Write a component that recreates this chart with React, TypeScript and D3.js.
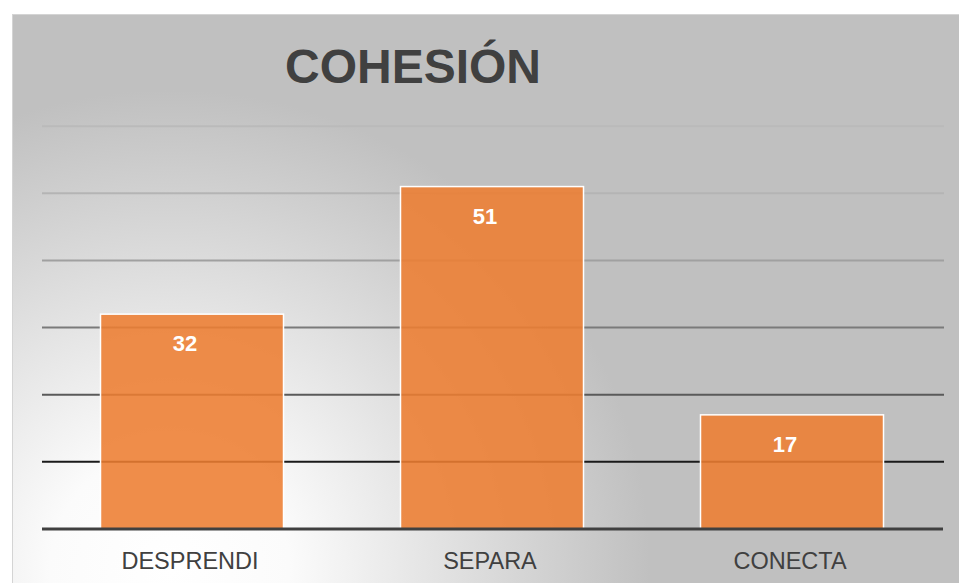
import React, { useEffect, useRef } from 'react';
import * as d3 from 'd3';

const categories = ['DESPRENDI', 'SEPARA', 'CONECTA'];
const values = [32, 51, 17];
const gridTicks = [10, 20, 30, 40, 50, 60];
const gridColors = ['#1a1a1a', '#5a5a5a', '#7a7a7a', '#a0a0a0', '#b4b4b4', '#bababa'];
const title = 'COHESIÓN';

const App: React.FC = () => {
  const ref = useRef<SVGSVGElement | null>(null);

  useEffect(() => {
    if (ref.current) draw();
  }, []);

  const draw = () => {
    const svg = d3.select(ref.current);
    svg.selectAll('*').remove();

    const width = 959;
    const height = 583;
    const fontFamily = 'Liberation Sans, Arial, sans-serif';

    const defs = svg.append('defs');
    const grad = defs.append('radialGradient')
      .attr('id', 'bg')
      .attr('gradientUnits', 'userSpaceOnUse')
      .attr('cx', 170).attr('cy', 570).attr('r', 480);
    grad.append('stop').attr('offset', '0%').attr('stop-color', '#ffffff');
    grad.append('stop').attr('offset', '25%').attr('stop-color', '#fbfbfb');
    grad.append('stop').attr('offset', '100%').attr('stop-color', '#c0c0c0');

    svg.append('rect')
      .attr('x', 12.5).attr('y', 14.5)
      .attr('width', width).attr('height', height)
      .attr('fill', 'url(#bg)')
      .attr('stroke', '#d4d4d4');

    const x = d3.scaleBand<string>()
      .domain(categories)
      .range([42, 942])
      .paddingInner(0.39)
      .paddingOuter(0.195);

    const y = d3.scaleLinear().domain([0, 70]).range([529, 59]);

    // gridlines
    svg.append('g')
      .selectAll('line')
      .data(gridTicks)
      .enter().append('line')
      .attr('x1', 42).attr('x2', 944)
      .attr('y1', d => y(d)).attr('y2', d => y(d))
      .attr('stroke', (d, i) => gridColors[i])
      .attr('stroke-width', 2);

    // bars
    svg.append('g')
      .selectAll('rect')
      .data(values)
      .enter().append('rect')
      .attr('x', (d, i) => x(categories[i]) || 0)
      .attr('y', d => y(d))
      .attr('width', x.bandwidth())
      .attr('height', d => y(0) - y(d))
      .attr('fill', 'rgba(237,125,49,0.88)')
      .attr('stroke', '#ffffff')
      .attr('stroke-width', 1.5);

    // baseline
    svg.append('line')
      .attr('x1', 42).attr('x2', 943)
      .attr('y1', y(0)).attr('y2', y(0))
      .attr('stroke', '#404040')
      .attr('stroke-width', 3);

    // value labels (sit a little left of the bar centre, as in the source)
    svg.append('g')
      .selectAll('text')
      .data(values)
      .enter().append('text')
      .attr('x', (d, i) => (x(categories[i]) || 0) + x.bandwidth() / 2 - 7)
      .attr('y', d => y(d) + 37)
      .attr('text-anchor', 'middle')
      .attr('font-family', fontFamily)
      .attr('font-weight', 'bold')
      .attr('font-size', 22)
      .attr('fill', '#ffffff')
      .text(d => d);

    // category labels
    svg.append('g')
      .selectAll('text')
      .data(categories)
      .enter().append('text')
      .attr('x', d => (x(d) || 0) + x.bandwidth() / 2 - 2)
      .attr('y', 569)
      .attr('text-anchor', 'middle')
      .attr('font-family', fontFamily)
      .attr('font-size', 23.5)
      .attr('fill', '#404040')
      .text(d => d);

    svg.append('text')
      .attr('x', 413)
      .attr('y', 83)
      .attr('text-anchor', 'middle')
      .attr('font-family', fontFamily)
      .attr('font-weight', 'bold')
      .attr('font-size', 48)
      .attr('fill', '#404040')
      .text(title);
  };

  return (
    <svg ref={ref} width={959} height={583}
      style={{ position: 'absolute', left: 0, top: 0, background: '#ffffff' }} />
  );
};

export default App;
